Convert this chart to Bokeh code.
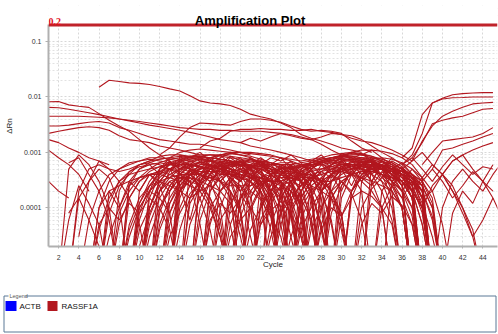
from bokeh.plotting import figure
from bokeh.models import (Range1d, FixedTicker, CustomJSTickFormatter, Label, Span,
                          BoxAnnotation, ColumnDataSource)
from bokeh.embed import file_html
from bokeh.resources import INLINE
from bokeh.core.properties import value

# ---------------- data ----------------
x_ticks = list(range(2, 46, 2))
y_ticks = [0.0001, 0.001, 0.01, 0.1]
threshold = 0.2

# RASSF1A traces, absolute dRn values: (first cycle, values per cycle)
top_trace = (6, [0.015, 0.02, 0.019, 0.018, 0.0176, 0.0168, 0.0155, 0.014, 0.0128, 0.0105,
                 0.0085, 0.0078, 0.0075, 0.007, 0.006, 0.0049, 0.0044, 0.004, 0.0034, 0.0028,
                 0.0021, 0.0018, 0.0016, 0.0014, 0.0012, 0.0011, 0.001])

upper_traces = [
    (1, [0.0082, 0.0083, 0.0072, 0.0068, 0.0065, 0.005, 0.0038, 0.003, 0.0024, 0.0017,
         0.0012, 0.0009, 0.0007, 0.0005]),
    (1, [0.0065, 0.0064, 0.006, 0.0056, 0.0052, 0.0048, 0.0044, 0.004, 0.0037, 0.0034,
         0.0031, 0.0029, 0.0027, 0.0025, 0.0023, 0.0021, 0.0019, 0.0017, 0.0016, 0.0015,
         0.0013, 0.0012, 0.0011, 0.001, 0.0009, 0.0008, 0.0007]),
    (1, [0.0045, 0.0045, 0.0045, 0.0045, 0.0044, 0.0043, 0.0042, 0.004, 0.0038, 0.0036,
         0.0034, 0.0032, 0.003, 0.0028, 0.0027, 0.0026, 0.0026, 0.0025, 0.0025, 0.0024,
         0.0024, 0.0024, 0.0023, 0.0022, 0.0021, 0.0019, 0.0017, 0.0014, 0.0011, 0.0009,
         0.0008, 0.0006]),
    (1, [0.003, 0.003, 0.0031, 0.0033, 0.0035, 0.0036, 0.0034, 0.0028, 0.0025, 0.0022,
         0.0019, 0.0017, 0.0016, 0.0015, 0.0014, 0.0014, 0.0013, 0.0012, 0.0011, 0.001, 0.0009]),
    (1, [0.0022, 0.0024, 0.0026, 0.0028, 0.0029, 0.0028, 0.0025, 0.002, 0.0017, 0.0016,
         0.0015, 0.0013, 0.0012, 0.0011, 0.001, 0.0009]),
    (1, [0.0017, 0.0015, 0.0012, 0.001, 0.0008, 0.0007, 0.0006]),
    (1, [0.0011, 0.0008, 0.0006, 0.0004, 0.0002]),
    (1, [0.0003, 0.0002, 0.00015]),
    (12, [0.0009, 0.0012, 0.0019, 0.0028, 0.0034, 0.0033, 0.0032, 0.0031, 0.0036, 0.004,
          0.004, 0.0038, 0.0035, 0.003, 0.0026, 0.0024, 0.0025, 0.0024, 0.0022, 0.0016,
          0.0012, 0.001]),
    (16, [0.0012, 0.0016, 0.0018, 0.0024, 0.0026, 0.0026, 0.0027, 0.0026, 0.0026, 0.0025,
          0.0025, 0.0026, 0.0024, 0.0023, 0.0021, 0.002, 0.0017, 0.0013, 0.001, 0.0008]),
    (20, [0.0015, 0.0018, 0.0016, 0.0019, 0.0022, 0.002, 0.0018, 0.0017, 0.0019, 0.0022,
          0.0021, 0.0018, 0.0016, 0.0015, 0.0013, 0.0011, 0.0009, 0.0007]),
]

rising_traces = [
    (36, [0.0008, 0.0012, 0.0048, 0.0078, 0.0095, 0.011, 0.0115, 0.0118, 0.012, 0.012]),
    (36, [0.0006, 0.0009, 0.0022, 0.0078, 0.0092, 0.0097, 0.0098, 0.01, 0.01, 0.01]),
    (36, [0.0005, 0.0007, 0.0016, 0.003, 0.0045, 0.0055, 0.0065, 0.0075, 0.0078, 0.008]),
    (37, [0.0008, 0.0015, 0.0033, 0.0038, 0.0042, 0.0045, 0.0052, 0.006, 0.0062]),
    (38, [0.0006, 0.001, 0.0016, 0.0017, 0.0018, 0.0019, 0.0022, 0.0028]),
    (39, [0.0005, 0.0011, 0.0012, 0.0014, 0.0016, 0.0019, 0.0022]),
    (40, [0.0004, 0.0007, 0.0009, 0.0011, 0.0013, 0.0015]),
]

# low-level traces, in units of 1e-4 dRn
unit = 1e-4
early_traces = [
    (2, [0.05, 5, 9, 6, 3, 1, 0.05]),
    (3, [6.5, 8, 4, 2, 0.6, 0.05]),
    (3, [0.8, 1.5, 3, 5, 3.5, 1.2, 0.05]),
    (2, [0.05, 0.6, 2.5, 1.2, 0.5, 0.05]),
    (3, [0.05, 1.5, 0.6, 0.2, 0.05]),
    (4, [0.3, 3, 7, 5, 3, 1.5, 0.5, 0.05]),
]

cluster1_traces = [
    (4, [0.05, 0.6, 2, 4, 5, 6, 7, 7.5, 7, 6.5, 6, 5, 4, 3, 1, 0.05]),
    (5, [0.05, 1, 3, 5, 6.5, 7, 8, 8, 7.5, 7, 6, 5.5, 4.5, 3, 1.5, 0.3, 0.05]),
    (6, [0.05, 0.8, 2.5, 4, 6, 7, 8.5, 9, 9, 8.5, 8, 7, 6, 5, 4, 2, 0.05]),
    (7, [0.05, 0.5, 1.5, 3, 4.5, 5.5, 6, 6.5, 6, 5.5, 5, 4, 2, 0.05]),
    (8, [0.05, 0.4, 1.2, 2.5, 4, 5, 6, 6, 5.5, 5, 4.5, 3.5, 2.5, 1, 0.05]),
    (9, [0.05, 0.6, 2, 3.5, 5, 6, 7, 7.5, 7, 6.5, 6, 5, 4, 3, 1.5, 0.05]),
    (10, [0.05, 0.3, 1, 2, 3.5, 4.5, 5, 5.5, 5, 4.5, 4, 3, 1.5, 0.05]),
    (3, [0.05, 2, 5, 6, 5, 4.5, 5, 6, 6.5, 6, 5, 4, 3, 0.5, 0.05]),
    (11, [0.05, 0.8, 2.5, 4, 5.5, 6.5, 7, 7, 6.5, 6, 5, 4, 3, 2, 0.05]),
    (8, [0.05, 1.5, 3, 4, 4.5, 5, 5, 4.5, 4, 3.5, 3, 2, 0.8, 0.05]),
    (6, [0.05, 0.3, 1, 2.5, 3.5, 4, 4.5, 4, 3.5, 3, 2.5, 1.5, 0.6, 0.05]),
    (12, [0.05, 0.5, 2, 4, 6, 8, 9, 9.5, 9, 8.5, 7.5, 6.5, 5, 3, 1, 0.05]),
    (9, [0.05, 0.2, 0.8, 2, 3, 3.5, 3.5, 3, 2.5, 1.5, 0.5, 0.05]),
    (10, [0.05, 1, 3, 5, 7, 8, 8.5, 8, 7.5, 7, 6.5, 6, 5.5, 4.5, 3.5, 2.5, 1, 0.05]),
    (5, [0.05, 0.4, 1.5, 3, 4, 4.5, 5, 5.5, 5, 4.5, 4, 3, 1.5, 0.4, 0.05]),
    (13, [0.05, 1, 2.5, 4, 5, 5.5, 6, 6, 5.5, 5, 4.5, 4, 3, 1.5, 0.05]),
    (7, [0.05, 2, 4.5, 6, 7, 7.5, 8, 8.5, 8, 7, 6, 5, 4, 3.5, 3, 2, 0.7, 0.05]),
    (14, [0.05, 0.5, 1.5, 3, 4.5, 5.5, 6.5, 7, 7, 6.5, 6, 5, 4, 2.5, 1, 0.05]),
    (11, [0.05, 0.4, 1.2, 2.5, 4, 5, 5.5, 5.5, 5, 4.5, 4, 3.5, 3, 2, 0.8, 0.05]),
    (15, [0.05, 1, 3, 5, 6, 7, 7.5, 7, 6.5, 6, 5, 4, 2, 0.05]),
    (16, [0.05, 0.5, 2, 3.5, 4.5, 5, 5, 4.5, 4, 3.5, 3, 2, 0.5, 0.05]),
    (12, [0.05, 0.3, 0.8, 1.8, 2.8, 3.5, 4, 4, 3.5, 3, 2, 1, 0.05]),
    (6, [0.05, 1.2, 3, 4.5, 5.5, 6, 6.5, 6, 5.5, 5, 4.5, 4, 3, 2, 0.05]),
    (7, [0.05, 0.8, 2, 3.5, 5, 6.5, 7.5, 8, 8.5, 8.5, 8, 7.5, 7, 6, 5, 3.5, 2, 0.05]),
    (8, [0.05, 2.5, 5, 6.5, 7.5, 8, 7.5, 7, 6.5, 6, 5, 3.5, 1, 0.05]),
    (9, [0.05, 0.4, 1, 2.5, 4, 5, 5.5, 6, 6, 5.5, 5, 4.5, 3.5, 2.5, 1, 0.05]),
    (10, [0.05, 0.7, 2, 3.5, 5, 6, 6.5, 7, 7, 6.5, 6, 5.5, 5, 4, 3, 1.5, 0.05]),
    (11, [0.05, 2, 4.5, 6.5, 7.5, 8, 8, 7.5, 7, 6.5, 5.5, 4.5, 3, 1, 0.05]),
    (12, [0.05, 1.2, 3, 4.5, 5.5, 6, 6.5, 6.5, 6, 5.5, 5, 4, 3, 2, 0.8, 0.05]),
    (13, [0.05, 0.4, 1.5, 3, 4, 5, 5.5, 6, 6, 5.5, 5, 4.5, 4, 3, 1.5, 0.05]),
    (14, [0.05, 1.5, 3.5, 5, 6, 6.5, 7, 6.5, 6, 5.5, 4.5, 3, 1, 0.05]),
    (5, [0.05, 1, 2, 2.5, 3, 3.5, 4, 4, 3.5, 3, 2.5, 2, 1, 0.3, 0.05]),
    (9, [0.05, 1.2, 3, 5, 6.5, 7.5, 8, 8.5, 9, 9, 8.5, 8, 7.5, 6.5, 5.5, 4.5, 3.5, 2, 0.05]),
    (15, [0.05, 0.6, 2, 3.5, 4.5, 5, 5.5, 5.5, 5, 4.5, 4, 3, 1.5, 0.05]),
    (17, [0.05, 1, 3, 4.5, 5.5, 6, 6, 5.5, 5, 4.5, 3.5, 2, 0.5, 0.05]),
    (8, [0.05, 0.5, 1.5, 2.5, 3, 2.5, 2, 1.5, 2, 2.5, 2, 1.2, 0.5, 0.05]),
    (12, [0.05, 0.8, 2.5, 4, 5, 5.5, 5, 4.5, 4, 3.5, 3, 3, 2.5, 2, 1.5, 0.6, 0.05]),
    (10, [0.05, 2, 5, 8, 10, 11, 11.5, 11, 10.5, 10, 9, 8, 6.5, 5, 3, 0.05]),
    (15, [0.05, 3, 6, 8, 9.5, 10, 10, 9.5, 9, 8, 7, 6, 4.5, 3, 0.05]),
]

cluster2_traces = [
    (22, [0.05, 0.5, 1.5, 3, 4.5, 6, 7, 8, 8.5, 8, 7.5, 6.5, 5, 3.5, 2, 0.05]),
    (23, [0.05, 1, 2.5, 4, 5.5, 7, 8, 9, 9.5, 9, 8, 7, 5.5, 4, 2.5, 0.8, 0.05]),
    (24, [0.05, 0.8, 2, 3.5, 5, 6, 7, 7, 6.5, 6, 5, 4, 3, 1.5, 0.05]),
    (25, [0.05, 1.5, 3, 4.5, 6, 7, 7.5, 7.5, 7, 6, 5, 3.5, 2, 0.05]),
    (20, [0.05, 0.4, 1, 2, 3, 4, 5, 6, 6.5, 6.5, 6, 5.5, 5, 4, 3, 2, 1, 0.05]),
    (26, [0.05, 0.6, 2, 4, 5.5, 6.5, 7, 6.5, 6, 5, 4, 3, 1.5, 0.05]),
    (21, [0.05, 1, 2.5, 4, 5, 6, 6.5, 7, 7, 7.5, 7.5, 7, 6.5, 5.5, 4, 2.5, 1, 0.05]),
    (27, [0.05, 1, 3, 5, 7, 8, 8, 7.5, 6.5, 5, 3.5, 2, 0.05]),
    (24, [0.05, 0.3, 1, 2, 3, 4, 4.5, 5, 5, 4.5, 4, 3, 2, 0.7, 0.05]),
    (19, [0.05, 0.7, 2, 3.5, 4.5, 5, 5.5, 5.5, 5, 5, 5.5, 6, 6, 5.5, 5, 4, 3, 2, 1, 0.05]),
    (28, [0.05, 0.8, 2.5, 4.5, 6, 7, 7, 6, 5, 4, 2.5, 0.05]),
    (23, [0.05, 0.5, 1.5, 2.5, 3.5, 4, 4.5, 4.5, 4, 3.5, 3, 2.5, 2, 1, 0.05]),
    (25, [0.05, 0.4, 1, 2, 3, 4, 5, 5.5, 5.5, 5, 4.5, 4, 3, 2, 0.05]),
    (29, [0.05, 1.5, 4, 6, 7.5, 8, 7.5, 6.5, 5, 3, 0.05]),
    (22, [0.05, 2, 4, 5, 5.5, 6, 6, 5.5, 5, 5, 5.5, 6, 6, 5.5, 4.5, 3.5, 2, 0.05]),
    (20, [0.05, 1, 2.5, 4, 5, 5.5, 6, 6.5, 7, 7.5, 8, 8, 7.5, 7, 6, 5, 3.5, 2, 0.05]),
    (21, [0.05, 0.5, 1.2, 2.5, 3.5, 4.5, 5.5, 6, 6.5, 6.5, 6, 5.5, 5, 4, 2.5, 1, 0.05]),
    (23, [0.05, 2, 4, 5.5, 6.5, 7.5, 8, 8.5, 8.5, 8, 7.5, 6.5, 5.5, 4, 2.5, 0.05]),
    (24, [0.05, 1.2, 3, 5, 6.5, 7.5, 8.5, 9, 9, 8.5, 7.5, 6.5, 5, 3, 0.05]),
    (25, [0.05, 0.6, 1.8, 3, 4, 5, 5.5, 6, 6, 5.5, 5, 4, 3, 1.5, 0.05]),
    (26, [0.05, 1.5, 3.5, 5, 6, 6.5, 6.5, 6, 5.5, 4.5, 3.5, 2.5, 0.05]),
    (27, [0.05, 0.5, 1.5, 3, 4, 4.5, 5, 5, 4.5, 4, 3, 2, 0.05]),
    (28, [0.05, 2, 4.5, 6, 6.5, 6.5, 6, 5, 4, 3, 1.5, 0.05]),
    (22, [0.05, 0.3, 0.8, 1.5, 2.5, 3.5, 4, 4.5, 5, 5, 5, 4.5, 4, 3.5, 3, 2, 1, 0.05]),
    (19, [0.05, 1.5, 3.5, 5, 6, 6.5, 6.5, 6, 6, 6.5, 7, 7.5, 7.5, 7, 6.5, 5.5, 4.5, 3, 1.5, 0.05]),
    (26, [0.05, 0.4, 1, 2, 3, 4, 4.5, 5, 5, 4.5, 4, 3.5, 2.5, 1, 0.05]),
    (29, [0.05, 0.7, 2, 3.5, 4.5, 5, 5, 4.5, 4, 3, 1.5, 0.05]),
    (30, [0.05, 2, 4, 5, 5.5, 5, 4.5, 3.5, 2.5, 0.05]),
    (21, [0.05, 0.6, 1.5, 2.5, 3, 3.5, 3.5, 3, 3, 3.5, 4, 4.5, 4.5, 4, 3.5, 3, 2, 1, 0.05]),
    (18, [0.05, 0.5, 1.5, 2.5, 3.5, 4, 4.5, 4.5, 4, 4, 4.5, 5, 5.5, 6, 6, 5.5, 5, 4, 3, 1.5, 0.05]),
    (27, [0.05, 3, 6, 8.5, 10, 11, 11, 10.5, 9.5, 8, 6, 3.5, 0.05]),
]

spanning_traces = [
    (9, [0.05, 0.8, 2.5, 4.5, 6, 7, 7.5, 8, 8, 7.5, 7, 6.5, 6, 5.5, 5, 5, 5, 5.5, 6, 6.5,
         7, 7, 7, 6.5, 6, 5, 4, 3, 1.5, 0.05]),
    (10, [0.05, 1.5, 4, 6, 7.5, 8.5, 9, 9, 8.5, 8, 7.5, 7, 6.5, 6, 6, 6, 6.5, 7, 7.5, 8,
          8.5, 8.5, 8, 7, 5.5, 4, 2.5, 0.05]),
    (11, [0.05, 0.5, 1.5, 3, 4, 4.5, 4.5, 4.5, 4, 4, 3.5, 3.5, 3, 3, 3.5, 4, 4.5, 5, 5,
          4.5, 4, 3, 2, 1, 0.05]),
    (13, [0.05, 2, 5, 7, 8, 9, 10, 10, 9.5, 9, 8.5, 8, 7.5, 7, 7.5, 8, 9, 9.5, 10, 9.5,
          8.5, 7, 5, 3, 0.05]),
    (8, [0.05, 0.3, 1, 2, 3, 3.5, 4, 4, 4, 3.5, 3, 2.5, 2.5, 2.5, 3, 3, 3.5, 3.5, 3, 2.5,
         2, 1.5, 0.8, 0.05]),
]

jagged_traces = [
    (9, [0.05, 2, 4, 3, 5, 2.5, 0.6, 3, 5, 4, 6, 3.5, 1, 0.05]),
    (10, [0.05, 1, 3, 2, 4.5, 6, 3, 5, 7, 4, 2, 0.3, 0.05]),
    (13, [0.05, 1.5, 4, 2.5, 5, 6.5, 4, 3, 5.5, 2, 0.4, 0.05]),
    (13, [0.05, 3, 5, 2, 4, 7, 5, 3.5, 6, 4.5, 1.5, 0.05]),
    (16, [0.05, 2.5, 6, 4, 3, 5.5, 7, 5, 2.5, 0.7, 0.05]),
    (16, [0.05, 2, 4, 5, 3, 6, 8, 6, 4, 3, 1.2, 0.05]),
    (18, [0.05, 1, 3.5, 6, 4, 2, 4.5, 6, 3, 0.5, 0.05]),
    (18, [0.05, 4, 6, 3.5, 5, 2, 0.8, 3, 4, 2.5, 0.05]),
    (19, [0.05, 1.5, 3, 6, 4, 5, 7, 4, 2, 0.4, 0.05]),
    (21, [0.05, 3, 1.5, 4, 6, 3, 5, 2, 0.6, 0.05]),
    (24, [0.05, 2, 5, 3, 6, 4, 7, 5, 3, 6, 4, 1.5, 0.05]),
    (25, [0.05, 2, 4, 3, 6, 8, 5, 7, 4, 2, 0.6, 0.05]),
    (28, [0.05, 3, 5, 2.5, 6, 8, 5, 3.5, 5, 2, 0.5, 0.05]),
    (28, [0.05, 4, 2, 5, 7, 4, 6, 3, 1, 0.05]),
    (30, [0.05, 1.5, 4, 6, 3.5, 5, 2.5, 4, 1.5, 0.05]),
    (30, [0.05, 2, 5, 3, 6, 4, 2, 3.5, 1, 0.05]),
    (32, [0.05, 3, 6, 4, 5.5, 2.5, 1, 0.05]),
    (10, [0.05, 0.5, 1.5, 0.8, 2, 3, 1.5, 0.4, 0.05]),
    (11, [0.05, 5, 7, 4, 6, 8, 6, 3, 5, 7, 5, 2, 0.05]),
    (14, [0.05, 6, 4, 7, 5, 8, 6, 4, 6, 5, 3, 1, 0.05]),
    (20, [0.05, 5, 7, 6, 8, 5, 3, 6, 4, 2, 0.5, 0.05]),
    (24, [0.05, 6, 4, 7, 9, 6, 8, 7, 5, 6, 3, 1, 0.05]),
    (32, [0.05, 7, 5, 8, 6, 4, 2, 0.6, 0.05]),
    (6, [0.05, 2, 1, 3, 2, 4, 2.5, 0.8, 0.05]),
    (17, [0.05, 0.6, 1.2, 2.5, 1.5, 3, 2, 0.5, 0.05]),
    (23, [0.05, 0.8, 2, 1.2, 2.5, 3.5, 2, 0.7, 0.05]),
    (33, [0.05, 1, 2.5, 1.5, 3, 1.2, 0.3, 0.05]),
    (13, [0.05, 9, 8, 10, 7, 9, 6, 8, 5, 3, 0.8, 0.05]),
    (29, [0.05, 8, 10, 9, 11, 8, 6, 4, 2, 0.05]),
    (19, [0.05, 1.8, 0.9, 2.2, 4, 2.8, 1.2, 0.3, 0.05]),
    (8, [0.05, 3, 5, 6, 4, 6.5, 5, 7, 5.5, 4, 6, 3, 0.8, 0.05]),
    (11, [0.05, 1, 2.5, 4, 3, 5, 6, 4.5, 6.5, 5, 3.5, 5, 2, 0.05]),
    (12, [0.05, 2, 3.5, 2.5, 4, 3, 5, 3.5, 2, 4, 3, 1, 0.05]),
    (14, [0.05, 1.2, 2.5, 4, 2, 3.5, 5, 4, 2.5, 3.5, 1.5, 0.3, 0.05]),
    (15, [0.05, 4, 6, 5, 7, 5.5, 8, 6, 4.5, 6, 3, 0.6, 0.05]),
    (17, [0.05, 3, 4.5, 3, 5, 6.5, 4, 5, 3, 4, 2, 0.5, 0.05]),
    (18, [0.05, 2, 1, 3, 4.5, 3, 5.5, 4, 2, 0.7, 0.05]),
    (20, [0.05, 1.5, 3.5, 2.5, 4, 5.5, 3.5, 5, 3, 1.5, 0.4, 0.05]),
    (22, [0.05, 4, 5.5, 4, 6, 5, 7, 5.5, 6.5, 4, 2, 0.05]),
    (23, [0.05, 2.5, 4.5, 3, 5, 6.5, 4.5, 7, 5, 6, 3, 1, 0.05]),
    (25, [0.05, 1.5, 3, 4.5, 3.5, 5, 6, 4, 5.5, 7, 4.5, 2.5, 0.05]),
    (26, [0.05, 3.5, 2, 4, 5.5, 4, 6, 7.5, 5, 3, 4, 1.5, 0.05]),
    (27, [0.05, 2, 3, 5, 4, 6, 5, 7, 6, 4.5, 2, 0.5, 0.05]),
    (29, [0.05, 2.5, 4.5, 3.5, 6, 5, 7, 5.5, 3.5, 1.5, 0.05]),
    (31, [0.05, 3, 4.5, 6, 5, 6.5, 4, 3, 1.2, 0.05]),
    (33, [0.05, 2, 4, 3, 5, 3.5, 2, 0.5, 0.05]),
    (34, [0.05, 3, 5, 4, 2.5, 1, 0.05]),
    (9, [0.05, 1, 2, 1.5, 3, 2, 3.5, 2.5, 1.2, 0.3, 0.05]),
    (13, [0.05, 5, 6.5, 5, 7.5, 6, 8.5, 7, 5.5, 7, 4, 1, 0.05]),
    (16, [0.05, 1, 2, 3, 2, 3.5, 2.5, 4, 3, 1.5, 0.4, 0.05]),
    (21, [0.05, 1.2, 2.2, 1.5, 3, 2.5, 4, 3, 2, 0.8, 0.05]),
    (24, [0.05, 1, 2, 3.5, 2.5, 4, 3, 1.8, 0.6, 0.05]),
    (28, [0.05, 1.5, 3, 2, 3.5, 2.5, 4.5, 3, 1.5, 0.5, 0.05]),
    (31, [0.05, 1, 2.2, 3.5, 2.5, 4, 3, 2, 0.7, 0.05]),
    (19, [0.05, 6, 7.5, 6, 8, 7, 9, 6.5, 4, 1.5, 0.05]),
    (25, [0.05, 5, 6.5, 8, 7, 9, 7.5, 9.5, 7, 5, 2, 0.05]),
]

low_traces = [
    (5, [0.05, 0.5, 1, 0.6, 1.2, 0.8, 1.5, 1, 0.4, 0.05]),
    (16, [0.05, 0.6, 1.2, 0.8, 1.5, 2, 1.4, 0.7, 0.3, 0.05]),
    (27, [0.05, 0.4, 1, 0.7, 1.5, 2, 1.6, 1, 0.5, 0.05]),
    (18, [0.05, 0.3, 0.6, 1, 0.5, 0.9, 1.3, 0.8, 0.3, 0.05]),
    (31, [0.05, 0.5, 1.2, 0.8, 1.6, 1.1, 0.5, 0.05]),
]

late_traces = [
    (35, [4, 3, 2, 3.5, 6, 4, 7, 9, 5, 3, 6]),
    (36, [5, 3.5, 1.5, 2, 4, 2.5, 1, 0.3, 0.05]),
    (37, [2, 3, 5, 3, 1.5, 2.5, 4.5, 3, 2]),
    (38, [1, 2.5, 4, 2, 0.8, 0.3, 0.6, 1.5]),
    (36, [6, 8, 5, 3, 5.5, 9, 6, 4, 5.5, 5]),
    (39, [0.05, 1, 3, 5, 3, 2, 4, 7]),
    (37, [7, 10, 6, 4, 2, 1, 0.4, 0.05]),
    (40, [0.05, 0.8, 2, 1.2, 3, 1.5, 0.6]),
]

legend_names = ["ACTB", "RASSF1A"]
legend_colors = ["#0000ff", "#b2171f"]

# ---------------- build ----------------
xs, ys = [], []
for start, vals in [top_trace] + upper_traces + rising_traces:
    xs.append(list(range(start, start + len(vals))))
    ys.append(list(vals))
for group in (early_traces, cluster1_traces, cluster2_traces, spanning_traces,
              jagged_traces, low_traces, late_traces):
    for start, vals in group:
        xs.append(list(range(start, start + len(vals))))
        ys.append([v * unit for v in vals])

src = ColumnDataSource(dict(xs=xs, ys=ys))

FONT = "Liberation Sans"
RED = "#b2171f"

p = figure(width=498, height=290, y_axis_type="log",
           x_range=Range1d(1, 45.45), y_range=Range1d(2e-5, 0.448),
           toolbar_location=None, output_backend="svg",
           min_border_left=48, min_border_right=1, min_border_top=5, min_border_bottom=44)
p.outline_line_color = None
p.background_fill_color = "white"
p.border_fill_color = "white"

p.multi_line(xs="xs", ys="ys", source=src, line_color=RED, line_width=1.1, line_alpha=1.0)

# blank band above the threshold, threshold line, and its label
p.add_layout(BoxAnnotation(bottom=threshold, fill_color="white", fill_alpha=1.0,
                           line_color=None))
p.add_layout(Span(location=threshold, dimension="width", line_color="#c0222a", line_width=3))

minor = [k * 10.0 ** e for e in range(-5, 0) for k in range(2, 10)]
p.yaxis.ticker = FixedTicker(ticks=y_ticks, minor_ticks=minor)
p.yaxis.formatter = CustomJSTickFormatter(code="return tick.toString();")
p.xaxis.ticker = FixedTicker(ticks=x_ticks)
p.yaxis.bounds = (2e-5, threshold)

for ax in (p.xaxis, p.yaxis):
    ax.axis_line_color = "#b0b0b0"
    ax.axis_line_width = 2
    ax.major_tick_line_color = "#b0b0b0"
    ax.minor_tick_line_color = None
    ax.major_label_text_font = FONT
    ax.major_label_text_color = "#333333"
    ax.major_label_text_font_size = "7px"
    ax.axis_label_text_font = FONT
    ax.axis_label_text_font_style = "normal"
    ax.axis_label_text_color = "#222222"
    ax.axis_label_text_font_size = "8px"

p.xaxis.major_tick_out = 2
p.xaxis.major_tick_in = 0
p.yaxis.major_tick_out = 3
p.yaxis.major_tick_in = 0
p.xaxis.major_label_standoff = 6
p.yaxis.major_label_standoff = 3
p.xaxis.axis_label = "Cycle"
p.yaxis.axis_label = "ΔRn"
p.xaxis.axis_label_standoff = -3
p.yaxis.axis_label_standoff = 3

p.xgrid.grid_line_color = "#d8d8d8"
p.xgrid.grid_line_dash = "2 2"
p.ygrid.grid_line_color = "#d8d8d8"
p.ygrid.grid_line_dash = "2 2"
p.ygrid.minor_grid_line_color = "#e2e2e2"
p.ygrid.minor_grid_line_dash = "2 2"

p.add_layout(Label(x=20.95, y=0.244, text="Amplification Plot", text_align="center",
                   text_baseline="alphabetic", text_font=FONT, text_font_style="bold",
                   text_font_size="13px", text_color="#000000"))
p.add_layout(Label(x=1, y=threshold, y_offset=3, text="0.2", text_align="left",
                   text_baseline="alphabetic", text_font="Liberation Serif",
                   text_font_style="bold", text_font_size="10px", text_color="#e0101a"))

# legend panel (separate root below the plot)
leg = figure(width=498, height=44, x_range=Range1d(0, 498), y_range=Range1d(44, 0),
             toolbar_location=None, output_backend="svg", min_border=0,
             x_axis_location=None, y_axis_location=None)
leg.grid.visible = False
leg.outline_line_color = None
leg.background_fill_color = "white"
leg.border_fill_color = "white"
leg.quad(left=3.5, right=495.5, top=5.5, bottom=41.5, fill_color=None,
         line_color="#5a7896", line_width=1)
leg.quad(left=8, right=25, top=2, bottom=9, fill_color="white", line_color=None)
leg.text(x=[9], y=[5.5], text=["Legend"], text_font=value(FONT), text_font_size="5.5px",
         text_color="#555555", text_baseline="middle")
leg.quad(left=[5, 47], right=[16, 57], top=[10.5, 10.5], bottom=[20.5, 20.5],
         fill_color=legend_colors, line_color=None)
leg.text(x=[19, 61], y=[16, 16], text=legend_names, text_font=value(FONT),
         text_font_size="8px", text_color="#111111", text_baseline="middle")

open("out.html", "w").write(file_html([p, leg], INLINE))
